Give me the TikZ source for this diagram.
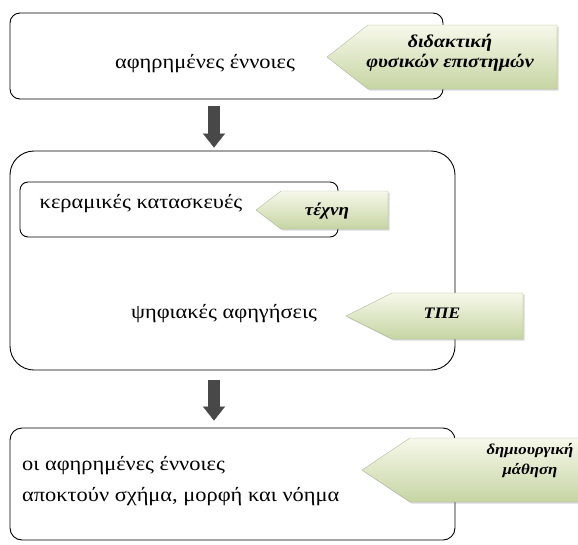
\documentclass[tikz,border=0pt]{standalone}
\usepackage{fontspec}
\setmainfont{Liberation Serif}[FakeStretch=1.12]
\usetikzlibrary{arrows.meta,positioning,shadows}

\definecolor{tagtop}{RGB}{246,248,234}
\definecolor{tagbot}{RGB}{198,213,163}
\definecolor{flowgray}{RGB}{72,72,72}

\tikzset{
  box/.style={draw=black, line width=0.9pt, inner sep=0pt},
  flow/.style={line width=12pt, draw=flowgray, -{Triangle[width=22pt,length=14pt,line width=0.1pt]}},
  tag/.style={top color=tagtop, bottom color=tagbot, draw=tagbot!85!black, line width=0.3pt,
    drop shadow={shadow xshift=1.5pt, shadow yshift=-1.5pt, opacity=0.3}},
  maintext/.style={font=\fontsize{20}{24}\selectfont, inner sep=0pt},
  tagtext/.style={font=\fontsize{#1}{20}\selectfont\bfseries\itshape, align=center, inner sep=0pt}
}

\begin{document}
\begin{tikzpicture}[x=1pt,y=-1pt]
\useasboundingbox (0,0) rectangle (578,544);

\node[box, rounded corners=10pt, minimum width=433pt, minimum height=86pt] (concepts) at (226.5,56) {};
\node[box, rounded corners=24pt, minimum width=445pt, minimum height=219pt] (tools) at (232.5,260.5) {};
\node[box, rounded corners=8pt, minimum width=318pt, minimum height=55pt] (crafts) at (179,209.5) {};
\node[box, rounded corners=12pt, minimum width=445pt, minimum height=112pt] (meaning) at (232.5,484) {};

\coordinate (axis) at (214,0);
\draw[flow, shorten <=7pt, shorten >=3pt] (concepts.south -| axis) -- (tools.north -| axis);
\draw[flow, shorten <=10pt, shorten >=7pt] (tools.south -| axis) -- (meaning.north -| axis);

\path[tag] (327,57) -- (368,25) -- (557,25) -- (557,89) -- (368,89) -- cycle;
\path[tag] (256,210) -- (281,191) -- (388,191) -- (388,229) -- (281,229) -- cycle;
\path[tag] (346,316) -- (392,293) -- (523,293) -- (523,339) -- (392,339) -- cycle;
\path[tag] (362,470) -- (410,438) -- (600,438) -- (600,502) -- (410,502) -- cycle;

\node[maintext] (conceptstext) at (205,64) {αφηρημένες έννοιες};
\node[tagtext=18] (didactics) at (450,53) {διδακτική\\φυσικών επιστημών};
\node[maintext] (craftstext) at (141,204) {κεραμικές κατασκευές};
\node[tagtext=17] (art) at (327,211) {τέχνη};
\node[maintext] (storiestext) at (224,314) {ψηφιακές αφηγήσεις};
\node[tagtext=16] (ict) at (442,313) {ΤΠΕ};
\node[maintext, anchor=west, align=left, font=\fontsize{20}{31}\selectfont] (meaningtext) at (22,481)
  {οι αφηρημένες έννοιες\\αποκτούν σχήμα, μορφή και νόημα};
\node[tagtext=15] (creative) at (530,461) {δημιουργική\\μάθηση};
\end{tikzpicture}
\end{document}
